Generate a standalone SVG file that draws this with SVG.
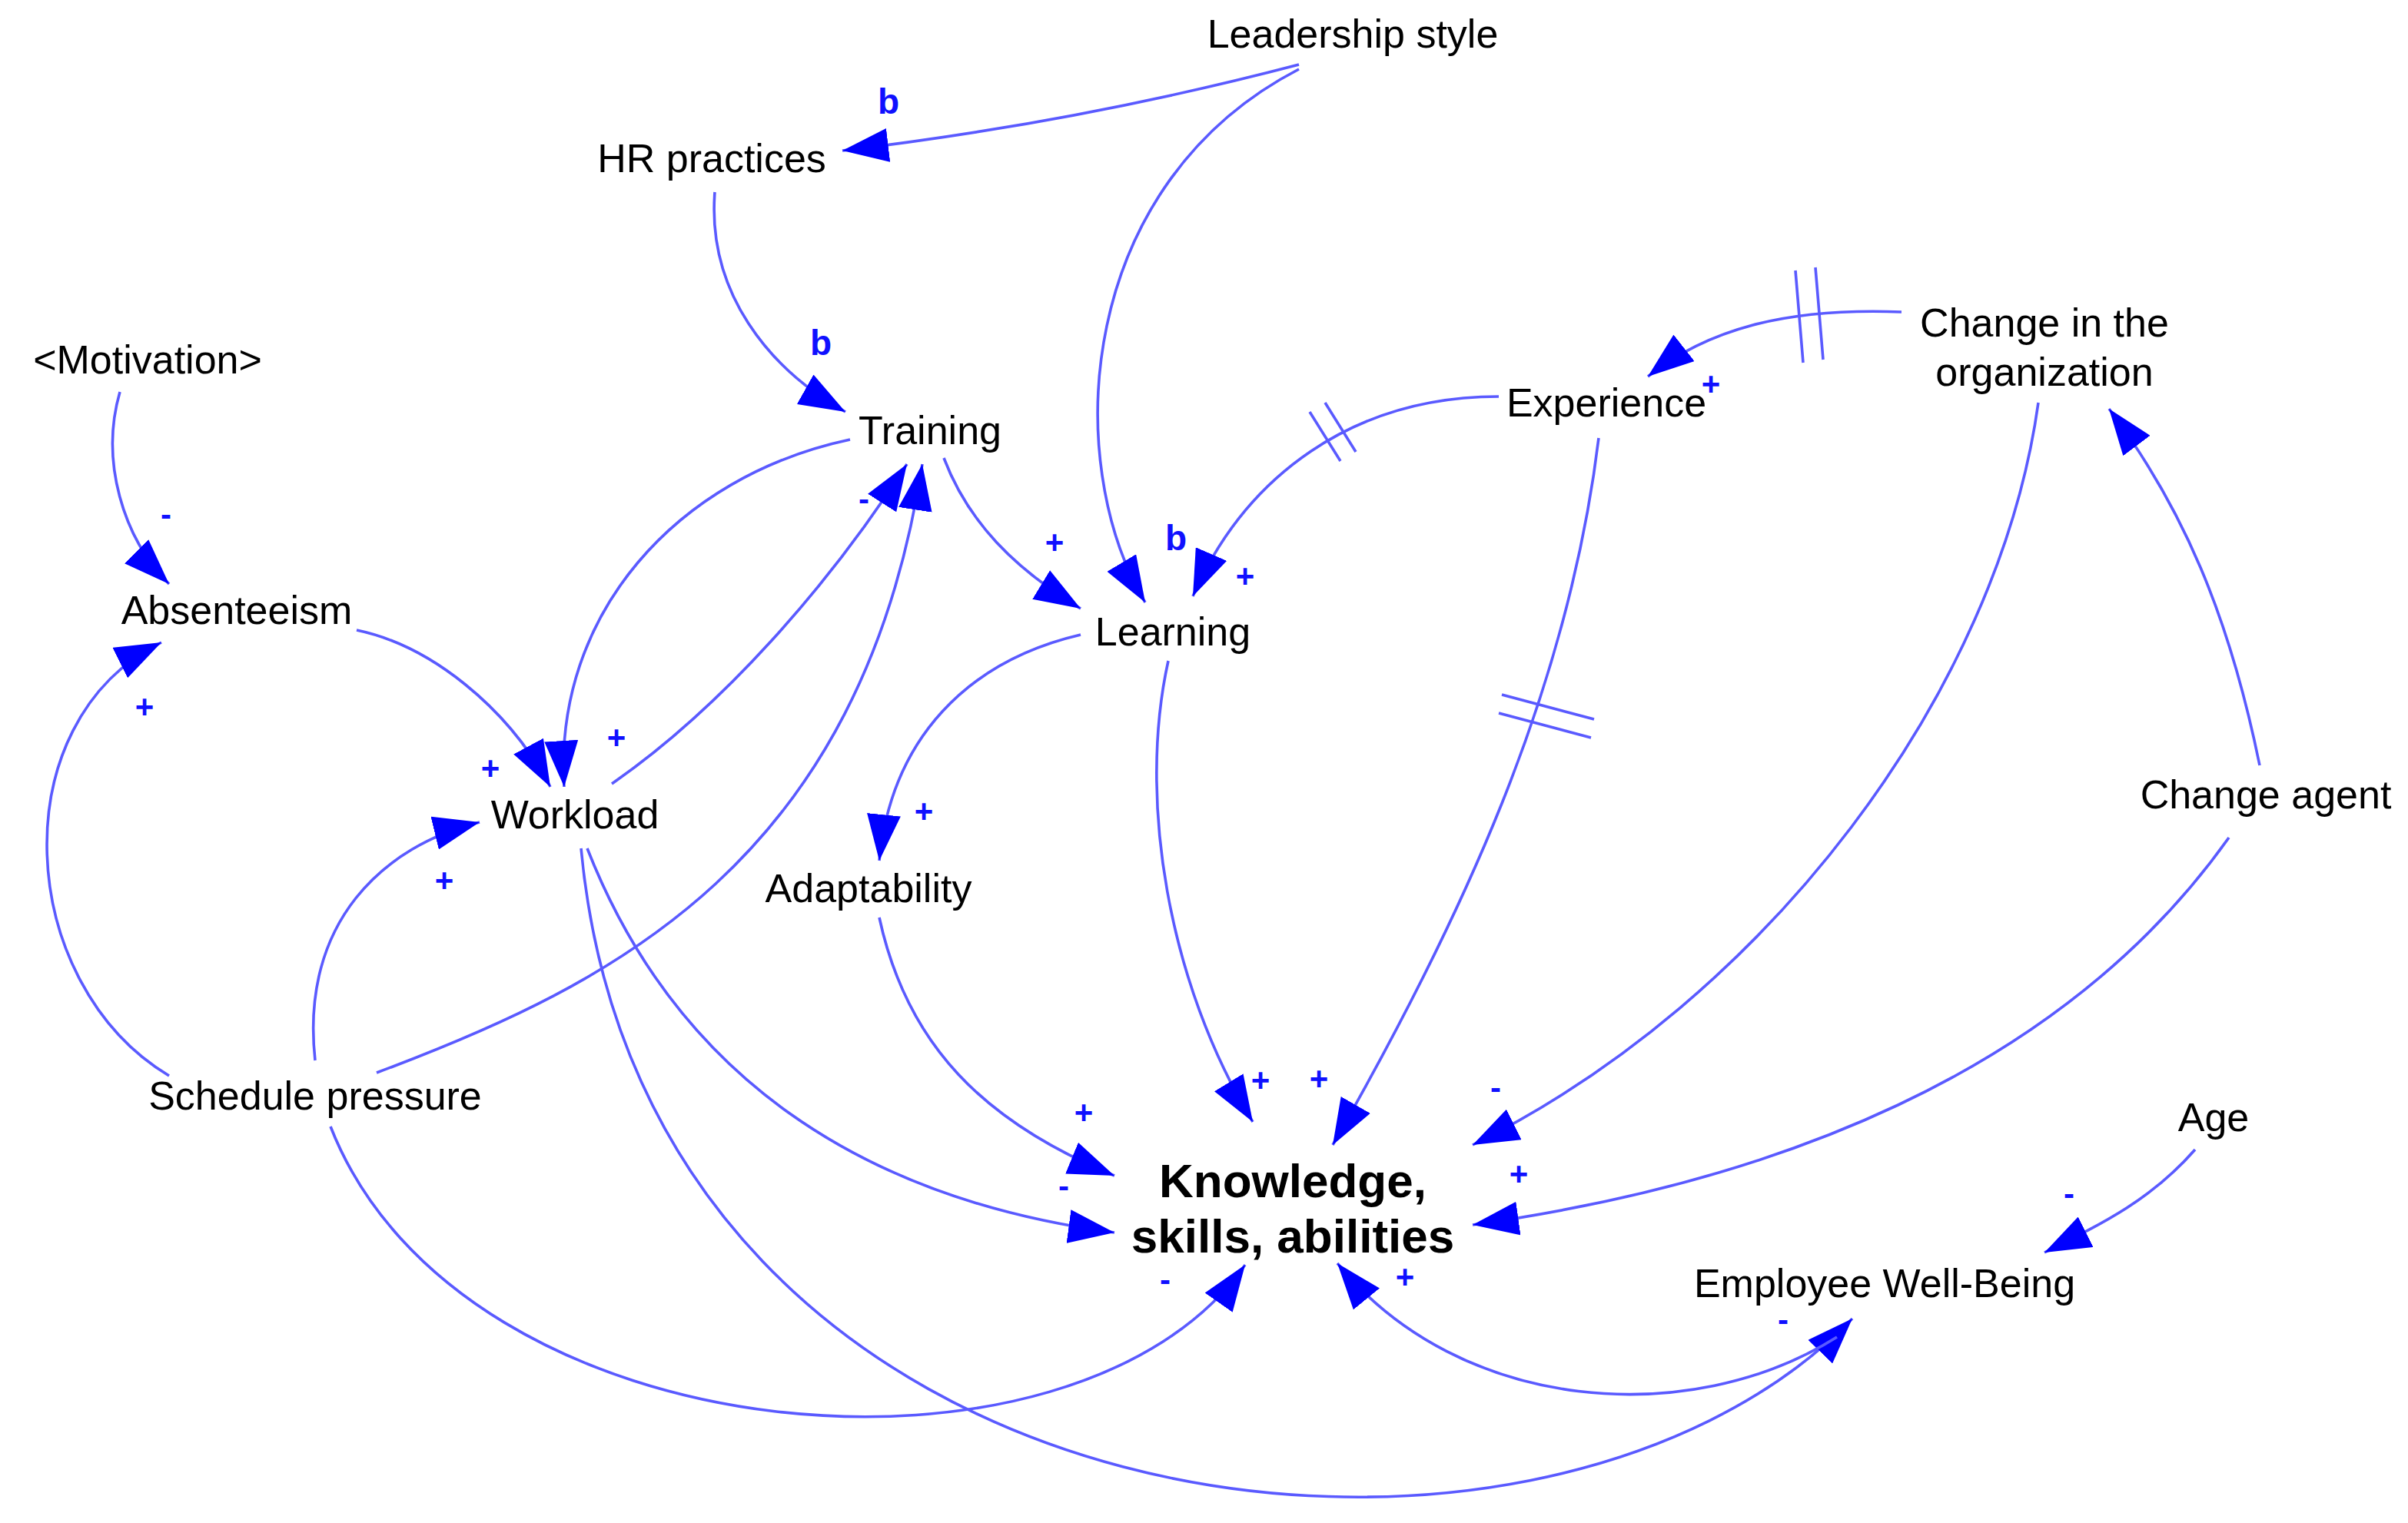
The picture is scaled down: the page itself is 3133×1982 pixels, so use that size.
<svg xmlns="http://www.w3.org/2000/svg" width="3133" height="1982" viewBox="0 0 3133 1982">
<style>
.n{font-family:"Liberation Sans",Arial,sans-serif;font-size:26px;fill:#000;text-anchor:middle}
.k{font-family:"Liberation Sans",Arial,sans-serif;font-size:31px;font-weight:bold;fill:#000;text-anchor:middle}
.e{fill:none;stroke:#5a5aff;stroke-width:1.8;marker-end:url(#ah)}
.d{stroke:#5a5aff;stroke-width:1.8}
.p{font-family:"Liberation Sans",Arial,sans-serif;font-size:21px;font-weight:bold;fill:#1010ff;text-anchor:middle}
.b{font-family:"Liberation Sans",Arial,sans-serif;font-size:23px;font-weight:bold;fill:#1010ff;text-anchor:middle}
</style>
<defs>
<marker id="ah" markerUnits="userSpaceOnUse" markerWidth="30" markerHeight="22" refX="30" refY="11" orient="auto">
<path d="M0,0 L30,11 L0,22 z" fill="#0000ff"/>
</marker>
</defs>
<rect width="3133" height="1982" fill="#fff"/>
<g transform="scale(2)">
<g id="connectors">
<path class="e" d="M845,42 Q700,80 548,98"/>
<path class="e" d="M845,45 C700,120 690,300 745,392"/>
<path class="e" d="M465,125 C460,190 500,240 550,268"/>
<path class="e" d="M78,255 C65,300 80,350 110,380"/>
<path class="e" d="M614,298 C630,340 660,370 703,396"/>
<path class="e" d="M553,286 C440,310 360,400 367,512"/>
<path class="e" d="M398,510 C470,460 540,380 590,302"/>
<path class="e" d="M245,698 C400,640 560,560 600,302"/>
<path class="e" d="M975,258 C880,258 810,310 776,388"/>
<path class="e" d="M1237,203 C1160,200 1110,215 1072,245"/>
<path class="e" d="M232,410 C280,420 330,460 358,512"/>
<path class="e" d="M110,700 C10,640 0,470 105,418"/>
<path class="e" d="M205,690 C195,600 250,550 312,535"/>
<path class="e" d="M703,413 C630,430 580,480 572,560"/>
<path class="e" d="M760,430 C740,520 760,640 815,730"/>
<path class="e" d="M1040,285 C1020,450 950,600 867,745"/>
<path class="e" d="M1326,262 C1300,450 1150,650 958,745"/>
<path class="e" d="M1470,498 C1450,400 1420,330 1372,266"/>
<path class="e" d="M1450,545 C1340,700 1150,770 958,797"/>
<path class="e" d="M572,597 C590,680 640,730 725,765"/>
<path class="e" d="M382,552 C440,700 560,780 725,802"/>
<path class="e" d="M215,733 C300,950 700,980 810,823"/>
<path class="e" d="M378,552 C420,1005 1000,1070 1205,858"/>
<path class="e" d="M1195,870 C1100,930 950,920 870,822"/>
<path class="e" d="M1428,748 C1400,780 1370,795 1330,815"/>
<line class="d" x1="852" y1="268" x2="872" y2="300"/><line class="d" x1="862" y1="262" x2="882" y2="294"/>
<line class="d" x1="1168" y1="176" x2="1173" y2="236"/><line class="d" x1="1181" y1="174" x2="1186" y2="234"/>
<line class="d" x1="977" y1="452" x2="1037" y2="468"/><line class="d" x1="975" y1="464" x2="1035" y2="480"/>
<text class="b" x="578" y="74">b</text>
<text class="b" x="534" y="231">b</text>
<text class="b" x="765" y="358">b</text>
<text class="p" x="108" y="342">-</text>
<text class="p" x="686" y="360">+</text>
<text class="p" x="401" y="487">+</text>
<text class="p" x="562" y="332">-</text>
<text class="p" x="810" y="382">+</text>
<text class="p" x="1113" y="257">+</text>
<text class="p" x="319" y="507">+</text>
<text class="p" x="94" y="467">+</text>
<text class="p" x="289" y="580">+</text>
<text class="p" x="601" y="535">+</text>
<text class="p" x="820" y="710">+</text>
<text class="p" x="858" y="709">+</text>
<text class="p" x="973" y="715">-</text>
<text class="p" x="988" y="771">+</text>
<text class="p" x="705" y="731">+</text>
<text class="p" x="692" y="779">-</text>
<text class="p" x="758" y="840">-</text>
<text class="p" x="914" y="838">+</text>
<text class="p" x="1160" y="866">-</text>
<text class="p" x="1346" y="784">-</text>
</g>
<g id="leadership"><text class="n" x="880" y="31">Leadership style</text></g>
<g id="hr"><text class="n" x="463" y="112">HR practices</text></g>
<g id="motivation"><text class="n" x="96" y="243">&lt;Motivation&gt;</text></g>
<g id="training"><text class="n" x="605" y="289">Training</text></g>
<g id="experience"><text class="n" x="1045" y="271">Experience</text></g>
<g id="change_org"><text class="n" x="1330" y="219">Change in the</text><text class="n" x="1330" y="251">organization</text></g>
<g id="absenteeism"><text class="n" x="154" y="406">Absenteeism</text></g>
<g id="learning"><text class="n" x="763" y="420">Learning</text></g>
<g id="workload"><text class="n" x="374" y="539">Workload</text></g>
<g id="adaptability"><text class="n" x="565" y="587">Adaptability</text></g>
<g id="change_agent"><text class="n" x="1474" y="526">Change agent</text></g>
<g id="schedule"><text class="n" x="205" y="722">Schedule pressure</text></g>
<g id="age"><text class="n" x="1440" y="736">Age</text></g>
<g id="ksa"><text class="k" x="841" y="779">Knowledge,</text><text class="k" x="841" y="815">skills, abilities</text></g>
<g id="wellbeing"><text class="n" x="1226" y="844">Employee Well-Being</text></g>
</g>
</svg>
